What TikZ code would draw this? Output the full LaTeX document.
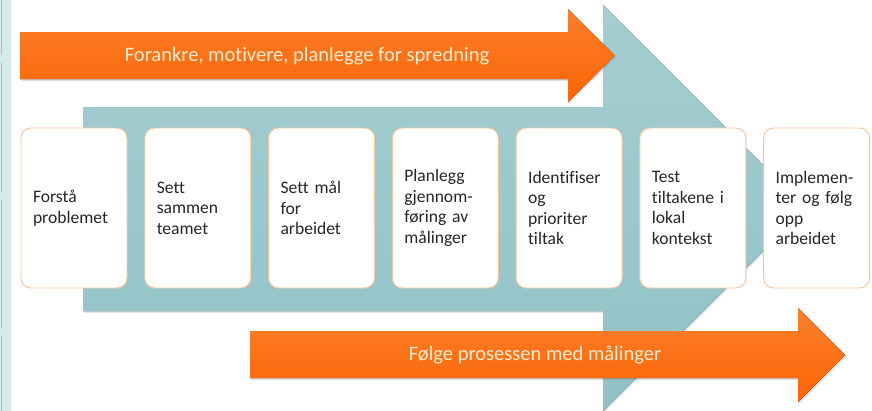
\documentclass[tikz,border=0pt]{standalone}
\usepackage{fontspec}
\setmainfont{Carlito}[Ligatures=NoCommon]
\usepackage{tikz}
\usetikzlibrary{positioning,shadows}
\definecolor{flowteal}{RGB}{164,206,210}
\definecolor{flowtealdark}{RGB}{146,194,198}
\definecolor{floworange}{RGB}{252,100,4}
\definecolor{floworangelight}{RGB}{250,128,45}
\definecolor{flowedge}{RGB}{248,196,156}
\definecolor{flowtext}{RGB}{255,236,205}
\definecolor{paneblue}{RGB}{214,234,234}
\tikzset{
  stepbox/.style={rounded corners=3mm, draw=flowedge, line width=0.8pt, fill=white, align=left, text width=24.6mm, inner xsep=3.6mm, minimum height=48mm, text=black!85, font=\fontsize{15}{17.5}\selectfont},
  orangearrow/.style={top color=floworangelight, bottom color=floworange, drop shadow={opacity=0.25, shadow xshift=0.3mm, shadow yshift=-0.6mm}},
  tealarrow/.style={top color=flowteal, bottom color=flowtealdark, drop shadow={opacity=0.2, shadow xshift=0.3mm, shadow yshift=-0.6mm}},
  arrowlabel/.style={text=flowtext, font=\fontsize{17.5}{20}\selectfont},
}
\begin{document}
\begin{tikzpicture}[x=0.3mm, y=-0.3mm]
    \useasboundingbox (0,0) rectangle (872,411);
    % slide pane at the left edge
    \fill[paneblue] (0,0) rectangle (11,411);
    \draw[gray!55, line width=0.6pt] (1.5,0) -- (1.5,55) (1.5,63) -- (1.5,192) (1.5,200) -- (1.5,328) (1.5,336) -- (1.5,411);
    % big process arrow
    \fill[tealarrow] (83,107) -- (603,107) -- (603,5) -- (806,208) -- (603,411) -- (603,311) -- (83,311) -- cycle;
    % top and bottom arrows
    \fill[orangearrow] (20,32) -- (568,32) -- (568,9) -- (615,55.5) -- (568,102) -- (568,79) -- (20,79) -- cycle;
    \node[arrowlabel] (anchor) at (307,56) {Forankre, motivere, planlegge for spredning};
    \fill[orangearrow] (250,331) -- (798,331) -- (798,308) -- (845,355) -- (798,402) -- (798,378) -- (250,378) -- cycle;
    \node[arrowlabel] (measure) at (535,355) {Følge prosessen med målinger};
    % steps
    \node[stepbox] (s1) at (74,208) {Forstå\\problemet};
    \node[stepbox, right=5.05mm of s1] (s2) {Sett\\sammen\\teamet};
    \node[stepbox, right=5.05mm of s2] (s3) {Sett mål\\for\\arbeidet};
    \node[stepbox, right=5.05mm of s3] (s4) {Planlegg\\gjennom-\\føring av\\målinger};
    \node[stepbox, right=5.05mm of s4] (s5) {Identifiser\\og\\prioriter\\tiltak};
    \node[stepbox, right=5.05mm of s5] (s6) {Test\\tiltakene i\\lokal\\kontekst};
    \node[stepbox, right=5.05mm of s6] (s7) {Implemen-\\ter og følg\\opp\\arbeidet};
  \end{tikzpicture}
\end{document}
